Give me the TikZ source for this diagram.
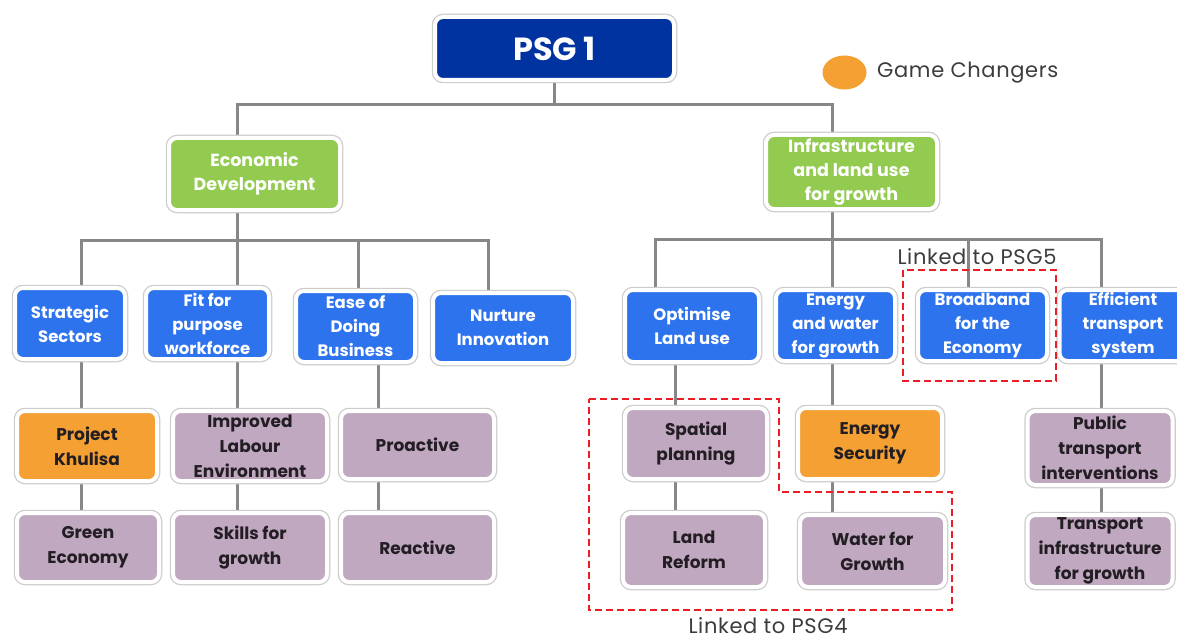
\documentclass[tikz,border=0pt]{standalone}
\usepackage{fontspec}
\setmainfont{Poppins}
\usetikzlibrary{backgrounds}
\definecolor{psgblue}{RGB}{0,51,160}
\definecolor{leafgreen}{RGB}{146,203,80}
\definecolor{midblue}{RGB}{45,115,238}
\definecolor{mauve}{RGB}{193,168,193}
\definecolor{gameorange}{RGB}{244,160,50}
\definecolor{wiregray}{RGB}{135,135,135}
\definecolor{dashred}{RGB}{235,30,40}
\definecolor{labelgray}{RGB}{60,60,60}
\definecolor{darktext}{RGB}{35,30,35}
\tikzset{
  box/.style={rounded corners=8pt, draw=white, line width=4pt,
    preaction={draw=black!20, line width=6.5pt},
    align=center, inner sep=0pt, font=\bfseries\fontsize{16.5}{24}\selectfont},
  topbox/.style={box, fill=psgblue, text=white, font=\bfseries\fontsize{32}{36}\selectfont},
  greenbox/.style={box, fill=leafgreen, text=white, font=\bfseries\fontsize{17.5}{24}\selectfont},
  bluebox/.style={box, fill=midblue, text=white},
  mauvebox/.style={box, fill=mauve, text=darktext, font=\bfseries\fontsize{17}{25}\selectfont},
  orangebox/.style={box, fill=gameorange, text=darktext, font=\bfseries\fontsize{17}{25}\selectfont},
  wire/.style={draw=wiregray, line width=3pt},
  linkbox/.style={draw=dashred, line width=2.5pt, dash pattern=on 7pt off 4pt},
  notelabel/.style={text=labelgray, font=\fontsize{21}{24}\selectfont\addfontfeature{LetterSpace=3}, inner sep=0pt},
}
\begin{document}
\begin{tikzpicture}[x=1pt,y=-1pt]
\useasboundingbox (0,0) rectangle (1177,639);
% level 0
\node[topbox, minimum width=239pt, minimum height=63pt] (psg) at (554.5,48.5) {PSG 1};
% level 1
\node[greenbox, minimum width=171pt, minimum height=72pt] (econ) at (254.5,174) {Economic\\Development};
\node[greenbox, minimum width=171pt, minimum height=74pt] (infra) at (851.5,172) {Infrastructure\\and land use\\for growth};
% level 2 left
\node[bluebox, minimum width=110pt, minimum height=71pt] (strat) at (70,323.5) {Strategic\\Sectors};
\node[bluebox, minimum width=123pt, minimum height=71pt] (fit) at (207.5,323.5) {Fit for\\purpose\\workforce};
\node[bluebox, minimum width=119pt, minimum height=71pt] (ease) at (355.5,326.5) {Ease of\\Doing\\Business};
\node[bluebox, minimum width=140pt, minimum height=70pt] (nurt) at (503,328) {Nurture\\Innovation};
% level 2 right
\node[bluebox, minimum width=134pt, minimum height=72pt] (opt) at (692,326) {Optimise\\Land use};
\node[bluebox, minimum width=119pt, minimum height=71pt] (enw) at (835.5,325.5) {Energy\\and water\\for growth};
\node[bluebox, minimum width=129pt, minimum height=71pt] (broad) at (982.5,325.5) {Broadband\\for the\\Economy};
\node[bluebox, minimum width=127pt, minimum height=71pt] (eff) at (1123,325.5) {Efficient\\transport\\system};
% level 3 left
\node[orangebox, minimum width=140pt, minimum height=70pt] (khul) at (87,446) {Project\\Khulisa};
\node[mauvebox, minimum width=154pt, minimum height=70pt] (impr) at (250,446) {Improved\\Labour\\Environment};
\node[mauvebox, minimum width=153pt, minimum height=68pt] (proa) at (417.5,445) {Proactive};
\node[mauvebox, minimum width=142pt, minimum height=69pt] (green) at (88,547.5) {Green\\Economy};
\node[mauvebox, minimum width=154pt, minimum height=69pt] (skill) at (250,547.5) {Skills for\\growth};
\node[mauvebox, minimum width=153pt, minimum height=69pt] (reac) at (417.5,547.5) {Reactive};
% level 3 right
\node[mauvebox, minimum width=142pt, minimum height=71pt] (spat) at (696,443.5) {Spatial\\planning};
\node[orangebox, minimum width=144pt, minimum height=71pt] (esec) at (870,443.5) {Energy\\Security};
\node[mauvebox, minimum width=145pt, minimum height=74pt] (pub) at (1100,448) {Public\\transport\\interventions};
\node[mauvebox, minimum width=142pt, minimum height=74pt] (land) at (694,550) {Land\\Reform};
\node[mauvebox, minimum width=145pt, minimum height=72pt] (water) at (872.5,551) {Water for\\Growth};
\node[mauvebox, minimum width=145pt, minimum height=72pt] (trans) at (1100,551) {Transport\\infrastructure\\for growth};
% bus coordinates
\coordinate (b1L) at (237,105);
\coordinate (b1R) at (832,105);
\coordinate (b2L) at (81,240);
\coordinate (b2M) at (358,240);
\coordinate (b2R) at (488,240);
\coordinate (x378) at (378,240);
\coordinate (b3L) at (655,239);
\coordinate (b3M) at (968,239);
\coordinate (b3R) at (1101,239);
\coordinate (x675) at (675,239);
% connectors
\begin{scope}[on background layer]
\draw[wire] (psg.south) -- (psg.south |- b1L);
\draw[wire] (econ.north -| b1L) -- (b1L) -- (b1R) -- (infra.north -| b1R);
\draw[wire] (econ.south -| b1L) -- (fit.north -| b1L);
\draw[wire] (strat.north -| b2L) -- (b2L) -- (b2R) -- (nurt.north -| b2R);
\draw[wire] (ease.north -| b2M) -- (b2M);
\draw[wire] (infra.south -| b1R) -- (enw.north -| b1R);
\draw[wire] (opt.north -| b3L) -- (b3L) -- (b3R) -- (eff.north -| b3R);
\draw[wire] (broad.north -| b3M) -- (b3M);
\draw[wire] (strat.south -| b2L) -- (khul.north -| b2L);
\draw[wire] (khul.south -| b2L) -- (green.north -| b2L);
\draw[wire] (fit.south -| b1L) -- (impr.north -| b1L);
\draw[wire] (impr.south -| b1L) -- (skill.north -| b1L);
\draw[wire] (ease.south -| x378) -- (proa.north -| x378);
\draw[wire] (proa.south -| x378) -- (reac.north -| x378);
\draw[wire] (opt.south -| x675) -- (spat.north -| x675);
\draw[wire] (spat.south -| x675) -- (land.north -| x675);
\draw[wire] (enw.south -| b1R) -- (esec.north -| b1R);
\draw[wire] (esec.south -| b1R) -- (water.north -| b1R);
\draw[wire] (eff.south -| b3R) -- (pub.north -| b3R);
\draw[wire] (pub.south -| b3R) -- (trans.north -| b3R);
\end{scope}
% linked groups
\draw[linkbox] (903,270) rectangle (1056,381);
\node[notelabel] (l5) at (977,257) {Linked to PSG5};
\draw[linkbox] (589,399) -- (779,399) -- (779,492) -- (952,492) -- (952,610) -- (589,610) -- cycle;
\node[notelabel] (l4) at (768,626) {Linked to PSG4};
% legend
\coordinate (gc) at (844.5,72.5);
\fill[gameorange] (gc) ellipse [x radius=22pt, y radius=17pt];
\node[notelabel, anchor=west] (gtext) at (877,73) {Game Changers};
\end{tikzpicture}
\end{document}
